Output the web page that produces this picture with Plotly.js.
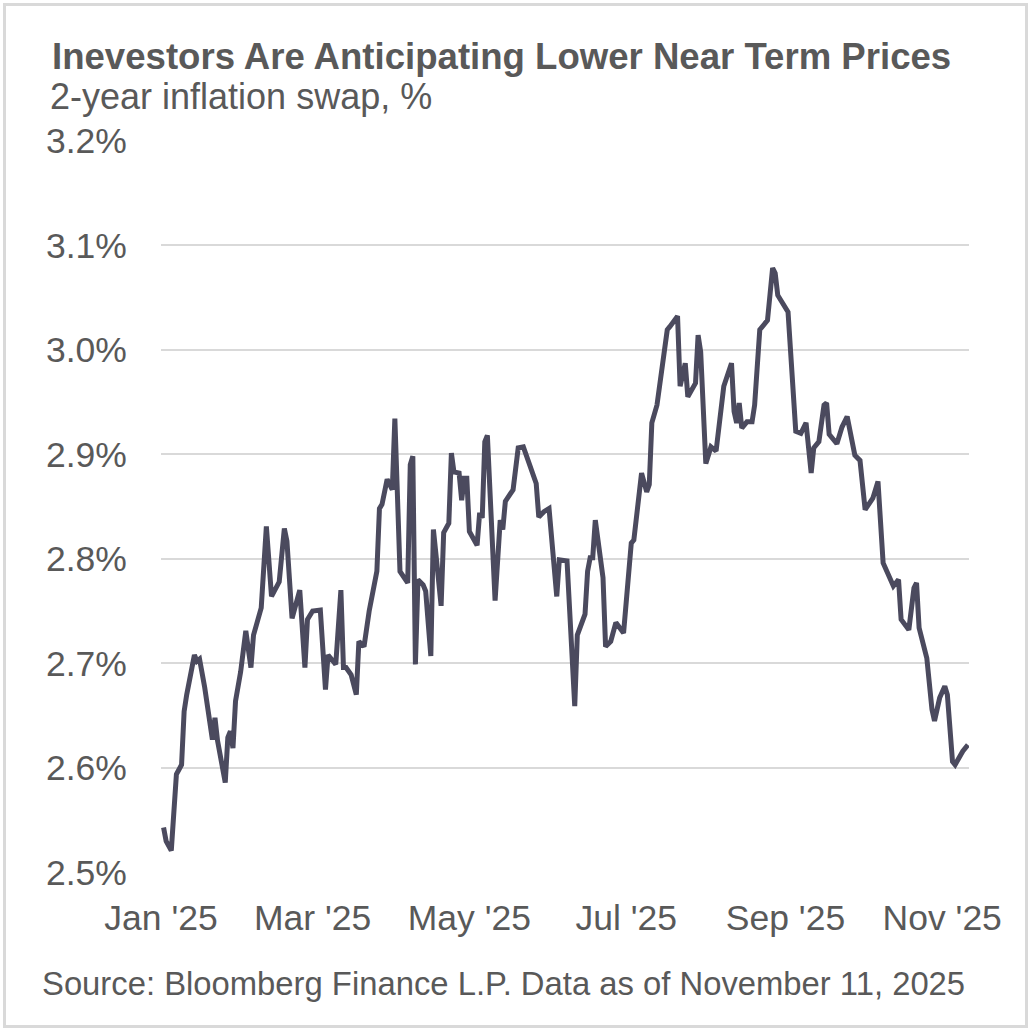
<!DOCTYPE html>
<html>
<head>
<meta charset="utf-8">
<script src="https://cdn.plot.ly/plotly-3.0.1.min.js"></script>
<style>
  html, body { margin: 0; padding: 0; background: #ffffff; }
  #chart { width: 1036px; height: 1032px; position: absolute; left: 0; top: 0; }
  #frame { position: absolute; left: 3px; top: 3px; width: 1019px; height: 1019px;
           border: 3px solid #d9d9d9; pointer-events: none; }
</style>
</head>
<body>
<div id="chart"></div>
<div id="frame"></div>
<script>
// ---- Data: 2-year inflation swap, % ----
const dates = [
  "2025-01-02","2025-01-03","2025-01-05","2025-01-07","2025-01-09","2025-01-10","2025-01-11",
  "2025-01-13","2025-01-14","2025-01-15","2025-01-16","2025-01-18","2025-01-20","2025-01-21",
  "2025-01-22","2025-01-23","2025-01-26","2025-01-27","2025-01-28","2025-01-29","2025-01-30",
  "2025-02-01","2025-02-03","2025-02-05","2025-02-06","2025-02-09","2025-02-11","2025-02-13",
  "2025-02-16","2025-02-18","2025-02-19","2025-02-21","2025-02-24","2025-02-26","2025-02-27",
  "2025-03-01","2025-03-04","2025-03-06","2025-03-07","2025-03-10","2025-03-12","2025-03-13",
  "2025-03-14","2025-03-16","2025-03-18","2025-03-19","2025-03-21","2025-03-23","2025-03-26",
  "2025-03-27","2025-03-28","2025-03-30","2025-04-01","2025-04-02","2025-04-04","2025-04-07",
  "2025-04-08","2025-04-09","2025-04-10","2025-04-11","2025-04-13","2025-04-14","2025-04-16",
  "2025-04-17","2025-04-18","2025-04-20","2025-04-21","2025-04-23","2025-04-24","2025-04-25",
  "2025-04-27","2025-04-28","2025-04-29","2025-04-30","2025-05-01","2025-05-04","2025-05-05",
  "2025-05-06","2025-05-07","2025-05-08","2025-05-11","2025-05-13","2025-05-14","2025-05-15",
  "2025-05-18","2025-05-20","2025-05-22","2025-05-27","2025-05-28","2025-05-30","2025-06-01",
  "2025-06-03","2025-06-04","2025-06-05","2025-06-08","2025-06-11","2025-06-12","2025-06-15",
  "2025-06-16","2025-06-17","2025-06-18","2025-06-19","2025-06-22","2025-06-23","2025-06-25",
  "2025-06-27","2025-06-30","2025-07-03","2025-07-04","2025-07-07","2025-07-09","2025-07-10",
  "2025-07-11","2025-07-13","2025-07-14","2025-07-15","2025-07-17","2025-07-18","2025-07-21",
  "2025-07-22","2025-07-24","2025-07-25","2025-07-28","2025-07-29","2025-07-30","2025-08-01",
  "2025-08-03","2025-08-05","2025-08-08","2025-08-11","2025-08-12","2025-08-13","2025-08-14",
  "2025-08-15","2025-08-17","2025-08-19","2025-08-20","2025-08-22","2025-08-25","2025-08-27",
  "2025-08-28","2025-08-29","2025-09-02","2025-09-05","2025-09-07","2025-09-09","2025-09-11",
  "2025-09-12","2025-09-14","2025-09-16","2025-09-17","2025-09-18","2025-09-21","2025-09-23",
  "2025-09-25","2025-09-28","2025-09-30","2025-10-02","2025-10-05","2025-10-07","2025-10-09",
  "2025-10-13","2025-10-15","2025-10-16","2025-10-19","2025-10-21","2025-10-22","2025-10-23",
  "2025-10-26","2025-10-28","2025-10-29","2025-10-31","2025-11-02","2025-11-03","2025-11-05",
  "2025-11-06","2025-11-09","2025-11-11"
];
const swapRate = [
  2.543,2.530,2.521,2.594,2.603,2.654,2.670,
  2.699,2.708,2.702,2.704,2.677,2.638,2.627,
  2.648,2.626,2.586,2.629,2.635,2.619,2.664,
  2.692,2.731,2.696,2.727,2.753,2.831,2.764,
  2.778,2.829,2.817,2.743,2.770,2.696,2.742,
  2.750,2.751,2.675,2.708,2.699,2.770,2.696,
  2.696,2.689,2.670,2.721,2.716,2.750,2.788,
  2.848,2.852,2.876,2.866,2.934,2.788,2.777,
  2.890,2.898,2.699,2.780,2.775,2.769,2.707,
  2.828,2.804,2.755,2.825,2.834,2.901,2.883,
  2.882,2.856,2.877,2.877,2.826,2.813,2.844,
  2.839,2.912,2.918,2.760,2.837,2.828,2.855,
  2.866,2.906,2.907,2.872,2.840,2.845,2.848,
  2.783,2.764,2.799,2.798,2.659,2.727,2.747,
  2.788,2.801,2.801,2.837,2.782,2.716,2.721,
  2.739,2.729,2.815,2.818,2.882,2.864,2.871,
  2.930,2.947,2.965,2.977,3.019,3.022,3.032,
  2.965,2.987,2.955,2.968,3.014,2.998,2.891,
  2.907,2.903,2.965,2.987,2.941,2.930,2.949,
  2.925,2.931,2.931,2.947,3.019,3.028,3.078,
  3.073,3.052,3.036,2.922,2.920,2.930,2.882,
  2.906,2.912,2.947,2.949,2.919,2.910,2.926,
  2.936,2.899,2.894,2.847,2.858,2.874,2.796,
  2.774,2.780,2.742,2.732,2.772,2.777,2.734,
  2.705,2.656,2.645,2.667,2.678,2.670,2.606,
  2.603,2.616,2.622
];

// ---- Text ----
const chartTitle = "Inevestors Are Anticipating Lower Near Term Prices";
const chartSubtitle = "2-year inflation swap, %";
const sourceNote = "Source: Bloomberg Finance L.P. Data as of November 11, 2025";
const xRange = ["2025-01-01", "2025-11-11 10:00"];
const yRange = [2.4995, 3.2005];

const textColor = "#595959";
const fontFamily = "Arial, 'Liberation Sans', Helvetica, sans-serif";

const trace = {
  x: dates,
  y: swapRate,
  type: "scatter",
  mode: "lines",
  line: { color: "#4b4a5e", width: 5, shape: "linear" },
  hoverinfo: "x+y"
};

const layout = {
  width: 1036,
  height: 1032,
  margin: { l: 161, r: 67, t: 140, b: 159, pad: 0 },
  paper_bgcolor: "#ffffff",
  plot_bgcolor: "#ffffff",
  showlegend: false,
  font: { family: fontFamily, color: textColor, size: 35 },
  xaxis: {
    type: "date",
    range: xRange,
    tick0: "2025-01-01",
    dtick: "M2",
    tickformat: "%b '%y",
    showgrid: false,
    zeroline: false,
    showline: false,
    ticks: "outside",
    ticklen: 13,
    tickcolor: "rgba(0,0,0,0)",
    tickfont: { family: fontFamily, size: 35.5, color: textColor }
  },
  yaxis: {
    range: yRange,
    tick0: 2.5,
    dtick: 0.1,
    tickformat: ".1f",
    ticksuffix: "%",
    showgrid: true,
    gridcolor: "#d9d9d9",
    gridwidth: 2,
    zeroline: false,
    showline: false,
    ticks: "outside",
    ticklen: 26,
    tickcolor: "rgba(0,0,0,0)",
    tickfont: { family: fontFamily, size: 35.5, color: textColor }
  },
  annotations: [
    {
      text: "<b>" + chartTitle + "</b>",
      xref: "paper", yref: "paper",
      x: -0.1368, y: (873 - 56) / 733,
      xanchor: "left", yanchor: "middle",
      showarrow: false,
      font: { family: fontFamily, size: 36.6, color: textColor }
    },
    {
      text: chartSubtitle,
      xref: "paper", yref: "paper",
      x: (49 - 161.5) / 807.8, y: (873 - 97) / 733,
      xanchor: "left", yanchor: "middle",
      showarrow: false,
      font: { family: fontFamily, size: 36, color: textColor }
    },
    {
      text: sourceNote,
      xref: "paper", yref: "paper",
      x: (41 - 161.5) / 807.8, y: (873 - 983) / 733,
      xanchor: "left", yanchor: "middle",
      showarrow: false,
      font: { family: fontFamily, size: 32.8, color: textColor }
    }
  ]
};

Plotly.newPlot("chart", [trace], layout, { displayModeBar: false, staticPlot: true });
</script>
</body>
</html>
